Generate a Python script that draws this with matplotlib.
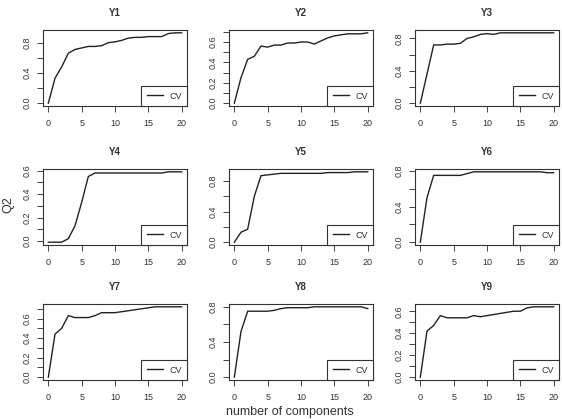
import numpy as np
import matplotlib
matplotlib.use("Agg")
import matplotlib.pyplot as plt
from matplotlib.ticker import MultipleLocator, FuncFormatter

plt.rcParams['font.family'] = ['Liberation Sans', 'DejaVu Sans']

ncomp = list(range(21))
titles = ['Y1', 'Y2', 'Y3', 'Y4', 'Y5', 'Y6', 'Y7', 'Y8', 'Y9']

y1 = [0.0, 0.33, 0.48, 0.66, 0.71, 0.73, 0.75, 0.75, 0.76, 0.80, 0.81,
      0.83, 0.86, 0.87, 0.87, 0.88, 0.88, 0.88, 0.92, 0.93, 0.93]
y2 = [0.0, 0.25, 0.43, 0.46, 0.56, 0.55, 0.57, 0.57, 0.59, 0.59, 0.60,
      0.60, 0.58, 0.61, 0.64, 0.66, 0.67, 0.68, 0.68, 0.68, 0.69]
y3 = [0.0, 0.36, 0.72, 0.72, 0.73, 0.73, 0.74, 0.80, 0.82, 0.85, 0.86,
      0.85, 0.87, 0.87, 0.87, 0.87, 0.87, 0.87, 0.87, 0.87, 0.87]
y4 = [-0.01, -0.01, -0.01, 0.02, 0.13, 0.33, 0.55, 0.58, 0.58, 0.58, 0.58,
      0.58, 0.58, 0.58, 0.58, 0.58, 0.58, 0.58, 0.59, 0.59, 0.59]
y5 = [0.0, 0.13, 0.17, 0.60, 0.87, 0.88, 0.89, 0.90, 0.90, 0.90, 0.90,
      0.90, 0.90, 0.90, 0.91, 0.91, 0.91, 0.91, 0.92, 0.92, 0.92]
y6 = [0.0, 0.50, 0.75, 0.75, 0.75, 0.75, 0.75, 0.77, 0.79, 0.79, 0.79,
      0.79, 0.79, 0.79, 0.79, 0.79, 0.79, 0.79, 0.79, 0.78, 0.78]
y7 = [0.0, 0.44, 0.50, 0.63, 0.61, 0.61, 0.61, 0.63, 0.66, 0.66, 0.66,
      0.67, 0.68, 0.69, 0.70, 0.71, 0.72, 0.72, 0.72, 0.72, 0.72]
y8 = [0.0, 0.52, 0.75, 0.75, 0.75, 0.75, 0.76, 0.78, 0.79, 0.79, 0.79,
      0.79, 0.80, 0.80, 0.80, 0.80, 0.80, 0.80, 0.80, 0.80, 0.78]
y9 = [0.0, 0.42, 0.47, 0.56, 0.54, 0.54, 0.54, 0.54, 0.56, 0.55, 0.56,
      0.57, 0.58, 0.59, 0.60, 0.60, 0.63, 0.64, 0.64, 0.64, 0.64]
series = [y1, y2, y3, y4, y5, y6, y7, y8, y9]

# tick step and label step per panel (R drops overlapping labels)
tick_step = [0.2, 0.1, 0.2, 0.1, 0.2, 0.2, 0.1, 0.2, 0.1]
label_step = [0.4, 0.2, 0.4, 0.2, 0.4, 0.4, 0.2, 0.4, 0.2]

W, H = 562, 419
col_left = [43, 229, 415]
row_top = [30, 169, 304]
pw, ph = 144, 76
txt = '#333333'

fig = plt.figure(figsize=(W / 100, H / 100), dpi=100)

for i, yv in enumerate(series):
    r, c = divmod(i, 3)
    ax = fig.add_axes([col_left[c] / W, 1 - (row_top[r] + ph) / H, pw / W, ph / H])
    ax.plot(ncomp, yv, color='#222222', lw=1.0, label='CV')
    lo, hi = min(yv), max(yv)
    pad = (hi - lo) * 0.04
    ax.set_ylim(lo - pad, hi + pad)
    ax.set_xlim(-0.8, 20.8)
    ax.xaxis.set_major_locator(MultipleLocator(5))
    ax.yaxis.set_major_locator(MultipleLocator(tick_step[i]))
    ls = label_step[i]
    ax.yaxis.set_major_formatter(FuncFormatter(
        lambda v, p, ls=ls: ('%.1f' % v) if abs(v / ls - round(v / ls)) < 1e-6 else ''))
    ax.tick_params(direction='out', length=4, width=0.7, colors='#444444',
                   labelsize=6.5, labelcolor=txt)
    ax.tick_params(axis='x', pad=5)
    ax.tick_params(axis='y', pad=4)
    for lab in ax.get_yticklabels():
        lab.set_rotation(90)
        lab.set_va('center')
    for s in ax.spines.values():
        s.set_linewidth(0.8)
        s.set_color('#333333')
    ax.set_title(titles[i], fontsize=7, fontweight='bold', color=txt, pad=10)
    leg = ax.legend(loc='lower right', borderaxespad=0, fancybox=False,
                    edgecolor='#333333', fontsize=6.5, handlelength=1.8,
                    borderpad=0.6, handletextpad=0.7, framealpha=1)
    leg.get_frame().set_linewidth(0.8)
    for t in leg.get_texts():
        t.set_color(txt)

fig.text(8 / W, 1 - 205 / H, 'Q2', rotation=90, fontsize=9, color=txt,
         ha='center', va='center')
fig.text(290 / W, 1 / H, 'number of components', fontsize=9, color=txt,
         ha='center', va='bottom')

fig.savefig('out.png', dpi=100, facecolor='white')
